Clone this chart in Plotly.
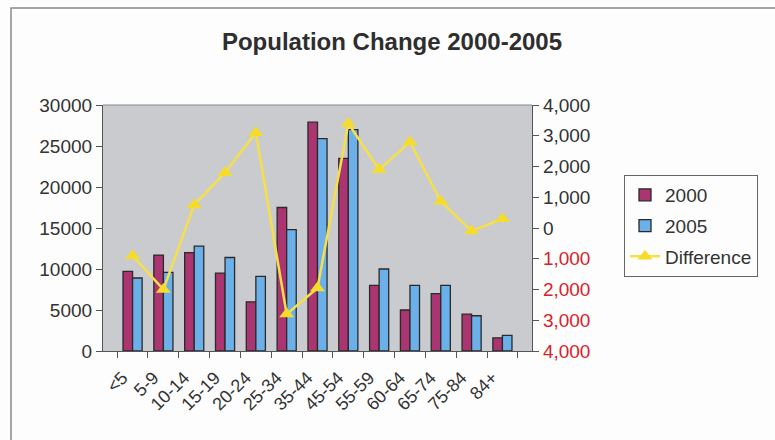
import plotly.graph_objects as go

# Age groups and population counts
age_groups = ["<5", "5-9", "10-14", "15-19", "20-24", "25-34", "35-44",
              "45-54", "55-59", "60-64", "65-74", "75-84", "84+"]
pop_2000 = [9700, 11700, 12000, 9500, 6000, 17500, 27900,
            23500, 8000, 5000, 7000, 4500, 1600]
pop_2005 = [8900, 9600, 12800, 11400, 9100, 14800, 25900,
            27000, 10000, 8000, 8000, 4300, 1900]
difference = [-900, -2000, 750, 1800, 3100, -2800, -1950,
              3400, 1900, 2800, 870, -100, 300]

# Axis ticks
left_ticks = [0, 5000, 10000, 15000, 20000, 25000, 30000]
right_ticks = [-4000, -3000, -2000, -1000, 0, 1000, 2000, 3000, 4000]
right_text = [
    (f'<span style="color:#d8222a">{abs(v):,}</span>' if v < 0 else f"{v:,}")
    for v in right_ticks
]

W, H = 775, 440
L, R, T, B = 103, 532, 105, 351  # plot area in pixels


def px_x(p):
    return (p - L) / (R - L)


def px_y(p):
    return (B - p) / (B - T)


fig = go.Figure()
fig.add_trace(go.Bar(
    x=age_groups, y=pop_2000, name="2000", legendgroup="a",
    marker=dict(color="#ab3570", line=dict(color="#2a2a2a", width=1.3)),
))
fig.add_trace(go.Bar(
    x=age_groups, y=pop_2005, name="2005", legendgroup="b",
    marker=dict(color="#6cb0ea", line=dict(color="#2a2a2a", width=1.3)),
))
fig.add_trace(go.Scatter(
    x=age_groups, y=difference, name="Difference", yaxis="y2",
    legendgroup="c",
    mode="lines+markers",
    line=dict(color="#f6e04a", width=2.5),
    marker=dict(symbol="triangle-up", size=13, color="#f6dc2a"),
))

font_family = "Liberation Sans, Arial, sans-serif"

fig.update_layout(
    width=W, height=H,
    margin=dict(l=L, r=W - R, t=T, b=H - B),
    paper_bgcolor="#fdfdfd",
    plot_bgcolor="#c9cbce",
    font=dict(family=font_family, size=19, color="#333333"),
    barmode="group",
    bargap=0.38,
    bargroupgap=0.0,
    title=dict(
        text="<b>Population Change 2000-2005</b>",
        xref="container", yref="container",
        x=392 / W, y=1 - 42 / H, xanchor="center", yanchor="middle",
        font=dict(size=24, color="#2e2e2e", family=font_family),
    ),
    xaxis=dict(
        type="category",
        tickangle=-45,
        tickson="boundaries",
        ticks="outside", ticklen=6, tickcolor="#555555",
        ticklabelstandoff=8,
        ticklabelshift=-10,
        showline=True, linecolor="#555555", linewidth=1.2,
        mirror=False,
        showgrid=False,
        tickfont=dict(size=18, color="#333333"),
    ),
    yaxis=dict(
        range=[0, 30000],
        tickvals=left_ticks,
        ticktext=[str(v) for v in left_ticks],
        ticks="outside", ticklen=6, tickcolor="#555555",
        showline=True, linecolor="#555555", linewidth=1.2,
        showgrid=False, zeroline=False,
        tickfont=dict(size=19, color="#333333"),
    ),
    yaxis2=dict(
        overlaying="y", side="right",
        range=[-4000, 4000],
        tickvals=right_ticks,
        ticktext=right_text,
        ticks="outside", ticklen=6, tickcolor="#555555",
        showline=True, linecolor="#555555", linewidth=1.2,
        showgrid=False, zeroline=False,
        tickfont=dict(size=19, color="#333333"),
    ),
    legend=dict(
        x=px_x(624), y=px_y(175), xanchor="left", yanchor="top",
        bordercolor="#666666", borderwidth=1,
        bgcolor="rgba(0,0,0,0)",
        font=dict(size=19, color="#333333"),
        traceorder="grouped",
        tracegroupgap=3,
        itemwidth=30,
    ),
    showlegend=True,
    shapes=[
        # thin top border of the plot area
        dict(type="line", xref="paper", yref="paper",
             x0=0, x1=1, y0=1, y1=1,
             line=dict(color="#8a8a8a", width=1)),
        # outer chart frame
        dict(type="rect", xref="paper", yref="paper",
             x0=px_x(11), x1=px_x(790), y0=px_y(455), y1=px_y(8),
             line=dict(color="#8a8a8a", width=1.5), layer="below"),
    ],
)

fig.write_html("out.html")
